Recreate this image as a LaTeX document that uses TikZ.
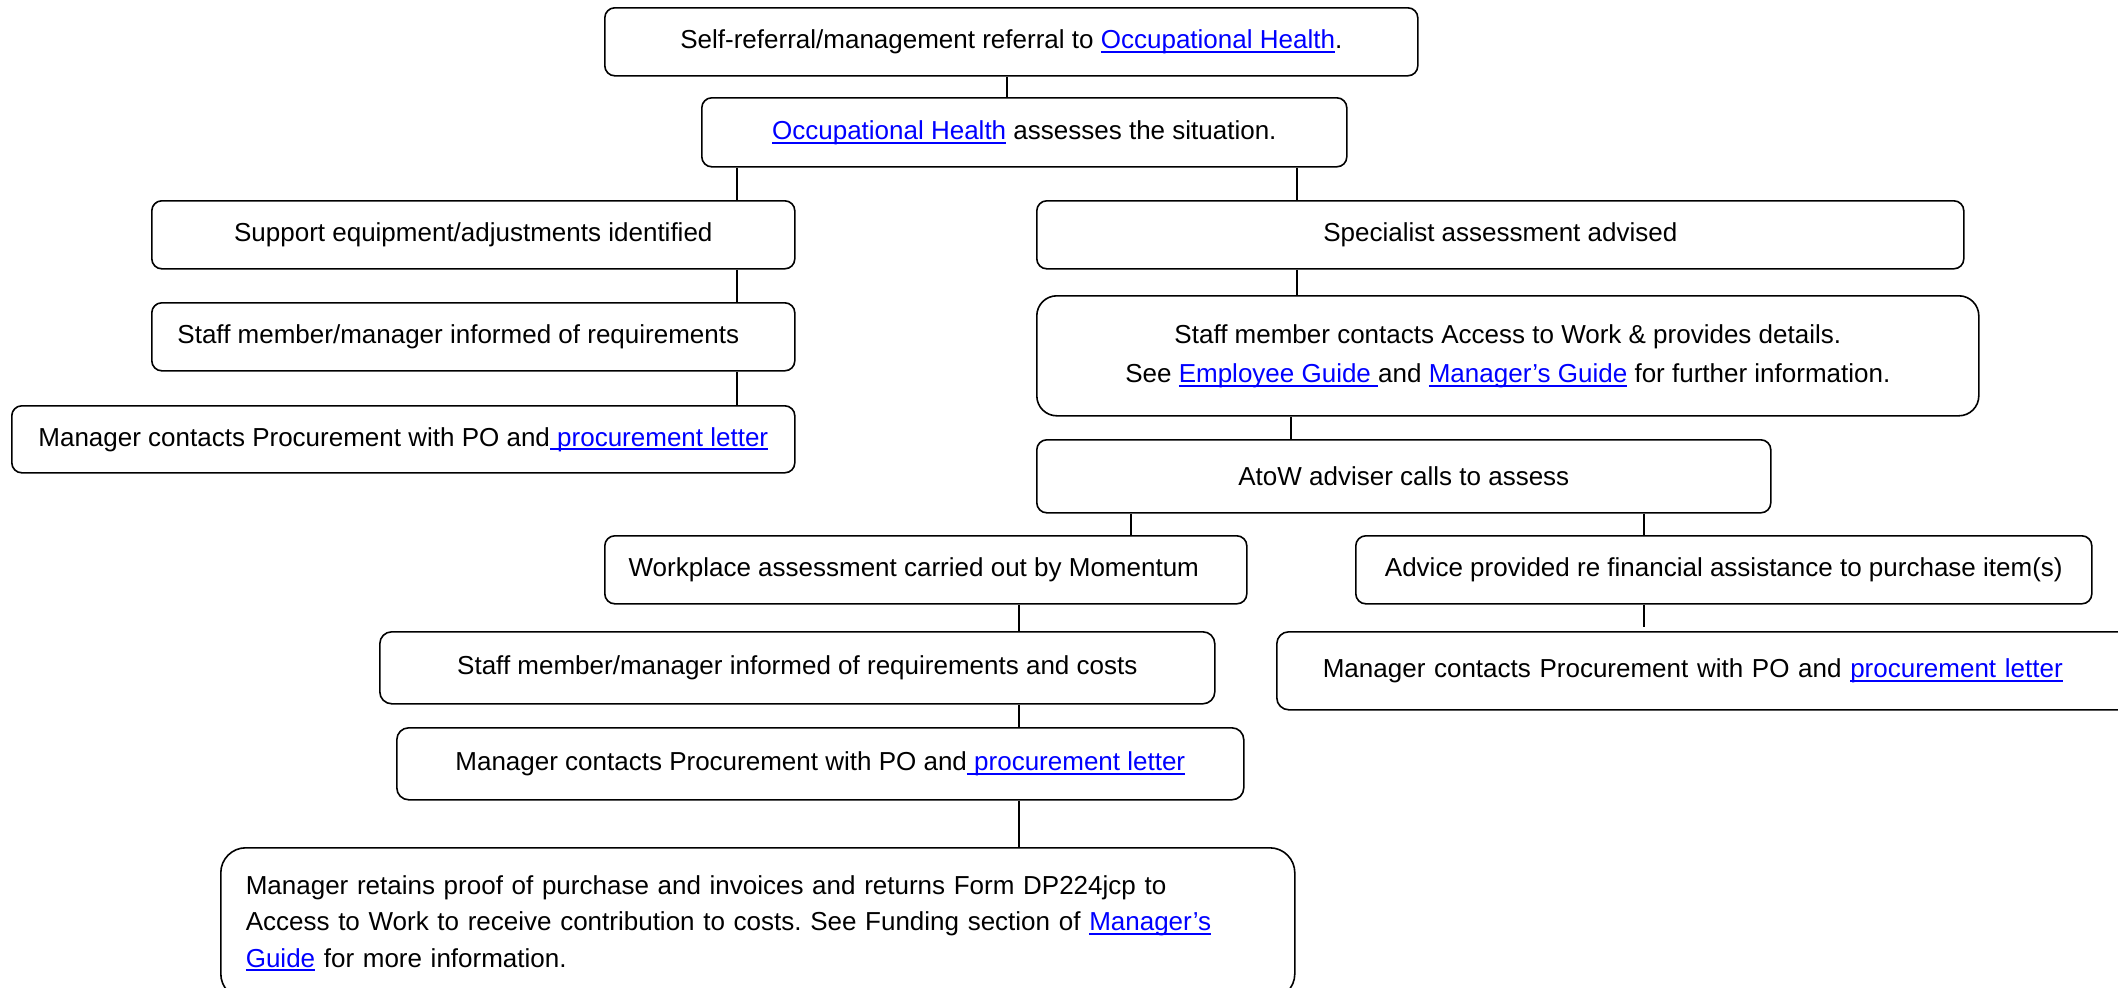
\documentclass[tikz,border=0pt]{standalone}
\usepackage{fontspec}
\setmainfont{Liberation Sans}
\frenchspacing
\definecolor{linkblue}{RGB}{0,0,255}
\newcommand\mainsz{\fontsize{26}{39}\selectfont}
\newcommand\lnk[1]{\leavevmode{\color{linkblue}\setbox0=\hbox{#1}\dp0=0pt\vtop{\copy0\kern0.09em\hrule height 0.075em}}}
\tikzset{
  box/.style={draw=black, line width=1.6pt, rounded corners=10pt, anchor=north west,
    inner sep=0pt, align=center, font=\mainsz, text=black},
  conn/.style={draw=black, line width=1.2pt},
}
\begin{document}
\begin{tikzpicture}[x=1pt,y=-1pt]
\useasboundingbox (0,0) rectangle (2118,988);
% boxes
\node[box, minimum width=813, minimum height=68] (b1) at (604,7) {Self-referral/management referral to \lnk{Occupational Health}.};
\node[box, minimum width=645, minimum height=69] (b2) at (701,97) {\lnk{Occupational Health} assesses the situation.};
\node[box, minimum width=643, minimum height=68] (b3) at (151,200) {Support equipment/adjustments identified};
\node[box, minimum width=643, minimum height=68] (b4) at (151,302) {\hspace*{-30pt}Staff member/manager informed of requirements};
\node[box, minimum width=783, minimum height=67] (b5) at (11,405) {Manager contacts Procurement with PO and\lnk{ procurement letter}};
\node[box, minimum width=927, minimum height=68] (b6) at (1036,200) {Specialist assessment advised};
\node[box, rounded corners=20pt, minimum width=942, minimum height=120] (b7) at (1036,295) {Staff member contacts Access to Work \& provides details.\\ See \lnk{Employee Guide }and \lnk{Manager’s Guide} for further information.};
\node[box, minimum width=734, minimum height=73] (b8) at (1036,439) {AtoW adviser calls to assess};
\node[box, minimum width=642, minimum height=68] (b9) at (604,535) {\hspace*{-24pt}Workplace assessment carried out by Momentum};
\node[box, minimum width=736, minimum height=68] (b10) at (1355,535) {Advice provided re financial assistance to purchase item(s)};
\node[box, rounded corners=12pt, align=left, inner xsep=46pt, text width=762pt, minimum height=78] (b11) at (1276,631) {Manager contacts Procurement with PO and \lnk{procurement letter}};
\node[box, rounded corners=12pt, minimum width=835, minimum height=72] (b12) at (379,631) {Staff member/manager informed of requirements and costs};
\node[box, rounded corners=12pt, minimum width=847, minimum height=72] (b13) at (396,727) {Manager contacts Procurement with PO and\lnk{ procurement letter}};
\node[box, rounded corners=25pt, align=left, inner xsep=25pt, text width=1024pt, minimum height=151, font=\fontsize{26}{36.5}\selectfont] (b14) at (220,847) {Manager retains proof of purchase and invoices and returns Form DP224jcp to\\Access to Work to receive contribution to costs. See Funding section of \lnk{Manager’s}\\\lnk{Guide} for more information.};
% connector x positions
\coordinate (xa) at (1007,0);
\coordinate (xb) at (737,0);
\coordinate (xc) at (1297,0);
\coordinate (xd) at (1291,0);
\coordinate (xe) at (1131,0);
\coordinate (xf) at (1644,0);
\coordinate (xg) at (1019,0);
% connectors
\draw[conn] (b1.south -| xa) -- (b2.north -| xa);
\draw[conn] (b2.south -| xb) -- (b3.north -| xb);
\draw[conn] (b3.south -| xb) -- (b4.north -| xb);
\draw[conn] (b4.south -| xb) -- (b5.north -| xb);
\draw[conn] (b2.south -| xc) -- (b6.north -| xc);
\draw[conn] (b6.south -| xc) -- (b7.north -| xc);
\draw[conn] (b7.south -| xd) -- (b8.north -| xd);
\draw[conn] (b8.south -| xe) -- (b9.north -| xe);
\draw[conn] (b8.south -| xf) -- (b10.north -| xf);
\draw[conn, shorten >=4pt] (b10.south -| xf) -- (b11.north -| xf);
\draw[conn] (b9.south -| xg) -- (b12.north -| xg);
\draw[conn] (b12.south -| xg) -- (b13.north -| xg);
\draw[conn] (b13.south -| xg) -- (b14.north -| xg);
\end{tikzpicture}
\end{document}
